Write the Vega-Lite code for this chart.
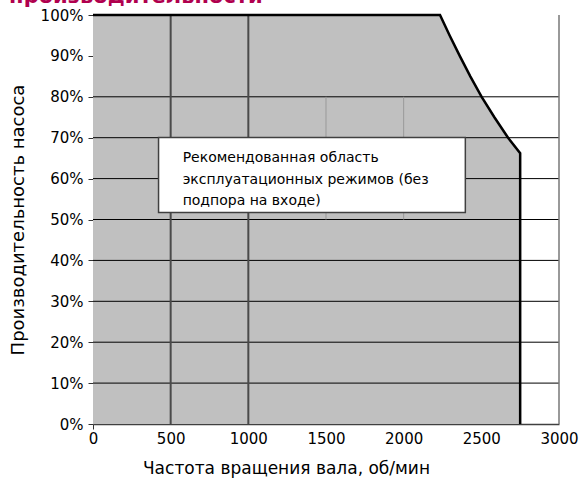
{
  "$schema": "https://vega.github.io/schema/vega-lite/v6.json",
  "width": 466,
  "height": 409,
  "autosize": {"type": "none"},
  "padding": {"left": 93, "top": 15, "right": 25, "bottom": 57},
  "config": {
    "view": {"stroke": null},
    "font": "DejaVu Sans",
    "axis": {"labelFont": "DejaVu Sans", "titleFont": "DejaVu Sans", "labelColor": "#000", "titleColor": "#000", "titleFontWeight": "normal"}
  },
  "datasets": {
    "boundary": [
      {"i": 1, "rpm": 0, "perf": 100},
      {"i": 2, "rpm": 2234, "perf": 100},
      {"i": 3, "rpm": 2296, "perf": 95},
      {"i": 4, "rpm": 2361, "perf": 90},
      {"i": 5, "rpm": 2429, "perf": 85},
      {"i": 6, "rpm": 2502, "perf": 80},
      {"i": 7, "rpm": 2584, "perf": 75},
      {"i": 8, "rpm": 2672, "perf": 70},
      {"i": 9, "rpm": 2750, "perf": 66.2},
      {"i": 10, "rpm": 2750, "perf": 0}
    ],
    "hgrid": [{"perf": 10}, {"perf": 20}, {"perf": 30}, {"perf": 40}, {"perf": 50}, {"perf": 60}, {"perf": 70}, {"perf": 80}],
    "vgrid": [{"rpm": 500}, {"rpm": 1000}],
    "lgrid": [{"rpm": 1500}, {"rpm": 2000}],
    "note": [{"text": "Рекомендованная область"}],
    "title": [{"text": "производительности"}]
  },
  "layer": [
    {
      "data": {"name": "boundary"},
      "transform": [{"filter": "datum.i < 10"}],
      "mark": {"type": "area", "color": "#c0c0c0", "interpolate": "linear"},
      "encoding": {
        "x": {
          "field": "rpm", "type": "quantitative",
          "scale": {"domain": [0, 3000], "nice": false},
          "axis": {
            "values": [0, 500, 1000, 1500, 2000, 2500, 3000],
            "format": "d",
            "grid": false,
            "domainColor": "#404040", "domainWidth": 1.5,
            "tickColor": "#333", "tickSize": 5,
            "tickOpacity": {"condition": {"test": "datum.value == 0", "value": 1}, "value": 0},
            "labelFontSize": 15, "labelPadding": 2, "labelFlush": false,
            "title": "Частота вращения вала, об/мин",
            "titleFontSize": 17, "titlePadding": 14, "titleX": 193
          }
        },
        "y": {
          "field": "perf", "type": "quantitative",
          "scale": {"domain": [0, 100], "nice": false},
          "axis": {
            "values": [0, 10, 20, 30, 40, 50, 60, 70, 80, 90, 100],
            "labelExpr": "datum.value + '%'",
            "grid": false, "domain": false,
            "tickColor": "#333", "tickSize": 5,
            "labelFontSize": 15, "labelPadding": 5,
            "title": "Производительность насоса",
            "titleFontSize": 18, "titlePadding": 13
          }
        }
      }
    },
    {
      "data": {"name": "hgrid"},
      "mark": {"type": "rule", "color": "#000", "strokeWidth": 1},
      "encoding": {"y": {"field": "perf", "type": "quantitative"}}
    },
    {
      "data": {"name": "vgrid"},
      "mark": {"type": "rule", "color": "#4a4a4a", "strokeWidth": 2},
      "encoding": {"x": {"field": "rpm", "type": "quantitative"}}
    },
    {
      "data": {"name": "lgrid"},
      "mark": {"type": "rule", "color": "#999", "strokeWidth": 1},
      "encoding": {"x": {"field": "rpm", "type": "quantitative"}, "y": {"datum": 50}, "y2": {"datum": 80}}
    },
    {
      "data": {"values": [{"rpm": 3000}]},
      "mark": {"type": "rule", "color": "#777", "strokeWidth": 1.5},
      "encoding": {"x": {"field": "rpm", "type": "quantitative"}, "y": {"datum": 0}, "y2": {"datum": 100}}
    },
    {
      "data": {"name": "note"},
      "mark": {"type": "rect", "fill": "#fff", "stroke": "#404040", "strokeWidth": 1.5},
      "encoding": {"x": {"datum": 422}, "x2": {"datum": 2397}, "y": {"datum": 51.7}, "y2": {"datum": 70.06}}
    },
    {
      "data": {"name": "note"},
      "mark": {"type": "text", "text": ["Рекомендованная область", "эксплуатационных режимов (без", "подпора на входе)"], "align": "left", "baseline": "alphabetic", "fontSize": 14, "lineHeight": 21.7, "color": "#000", "font": "DejaVu Sans"},
      "encoding": {"x": {"datum": 577}, "y": {"datum": 64.1}}
    },
    {
      "data": {"name": "boundary"},
      "mark": {"type": "line", "color": "#000", "strokeWidth": 2.5, "interpolate": "linear"},
      "encoding": {
        "x": {"field": "rpm", "type": "quantitative"},
        "y": {"field": "perf", "type": "quantitative"},
        "order": {"field": "i", "type": "quantitative"}
      }
    },
    {
      "data": {"name": "title"},
      "mark": {"type": "text", "align": "left", "baseline": "alphabetic", "fontSize": 21, "fontWeight": "bold", "color": "#b0004e", "font": "DejaVu Sans"},
      "encoding": {"text": {"field": "text"}, "x": {"datum": -540}, "y": {"datum": 102.94}}
    }
  ]
}
